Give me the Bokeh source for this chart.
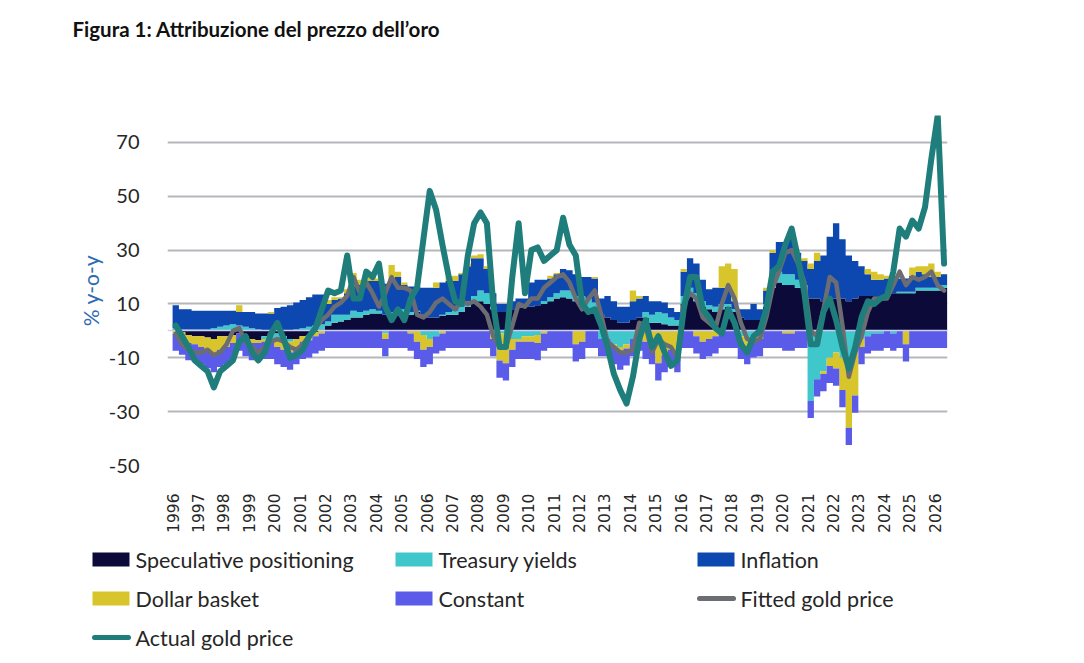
import numpy as np
from bokeh.plotting import figure
from bokeh.layouts import column, row
from bokeh.models import Range1d, FixedTicker
from bokeh.core.properties import value
from bokeh.embed import file_html
from bokeh.resources import INLINE

# ---------------- data (quarterly, 1996Q1 .. 2026Q2), % y-o-y contributions ----------------
start_year = 1996.0
step = 0.25

spec = [
    0.5, -0.5, -1.5, -2.0,     # 1996
    -2.0, -2.5, -3.0, -2.0,    # 1997
    -2.0, -1.5, -1.0, -2.0,    # 1998
    -3.0, -3.5, -2.0, -1.0,    # 1999
    -1.0, -2.0, -3.0, -3.0,    # 2000
    -2.0, -1.5, -0.5, 0.5,     # 2001
    2.0, 3.0, 3.5, 4.0,        # 2002
    5.0, 5.0, 6.0, 6.5,        # 2003
    6.5, 6.0, 6.0, 6.5,        # 2004
    6.5, 6.0, 7.0, 6.0,        # 2005
    5.0, 5.0, 5.5, 6.0,        # 2006
    6.0, 7.0, 9.0, 11.0,       # 2007
    11.0, 10.0, 8.0, 7.0,      # 2008
    7.0, 8.0, 8.5, 9.0,        # 2009
    9.0, 9.5, 10.0, 11.0,      # 2010
    12.0, 12.5, 12.0, 11.0,    # 2011
    9.0, 7.0, 6.5, 6.0,        # 2012
    5.0, 4.0, 3.0, 3.0,        # 2013
    4.0, 5.0, 5.0, 3.0,        # 2014
    3.0, 2.5, 2.0, 2.0,        # 2015
    10.0, 13.0, 11.0, 9.0,     # 2016
    8.0, 7.0, 8.0, 9.0,        # 2017
    7.0, 5.0, 4.0, 4.0,        # 2018
    4.0, 9.0, 16.0, 18.0,      # 2019
    17.0, 17.0, 16.0, 15.0,    # 2020
    12.0, 12.0, 11.0, 11.0,    # 2021
    12.0, 12.0, 11.0, 12.0,    # 2022
    13.0, 13.0, 13.0, 13.0,    # 2023
    13.0, 14.0, 14.0, 14.0,    # 2024
    14.0, 15.0, 15.0, 15.0,    # 2025
    15.0, 16.0,                # 2026
]

treasury = [
    0.5, 0.5, 0.5, 0.5,        # 1996
    0.5, 0.5, 1.0, 1.5,        # 1997
    2.0, 2.5, 2.0, 1.5,        # 1998
    1.0, 0.5, -1.0, -3.0,      # 1999
    -3.0, -2.0, -1.0, 0.5,     # 2000
    1.0, 1.5, 2.0, 2.0,        # 2001
    1.5, 3.0, 2.5, 2.0,        # 2002
    2.5, 2.0, 1.5, 1.5,        # 2003
    1.0, -1.0, 1.0, 1.5,       # 2004
    1.5, 1.0, 0.5, -1.5,       # 2005
    -3.0, -2.0, 0.5, 1.0,      # 2006
    1.5, 2.0, 2.0, 2.0,        # 2007
    4.0, 4.0, 1.0, -1.0,       # 2008
    -1.0, -3.0, -3.0, -2.0,    # 2009
    -2.0, -1.5, 1.0, 1.5,      # 2010
    2.0, 2.5, 3.0, 2.0,        # 2011
    4.0, 5.0, 4.0, -3.0,       # 2012
    -3.0, -5.0, -6.0, -5.0,    # 2013
    -3.0, -1.0, 2.0, 3.0,      # 2014
    4.0, 4.0, 3.0, 2.0,        # 2015
    3.0, 3.0, 3.0, 2.0,        # 2016
    1.5, 2.0, 2.0, 1.0,        # 2017
    1.0, -2.0, -3.0, -2.0,     # 2018
    -1.0, 1.0, 4.0, 4.0,       # 2019
    4.0, 4.0, 3.0, 2.0,        # 2020
    -26.0, -18.0, -15.0, -10.0,  # 2021
    -8.0, -10.0, -14.0, -8.0,  # 2022
    -3.0, -2.0, -1.0, -1.0,    # 2023
    0.5, -1.0, 0.5, 0.5,       # 2024
    0.5, 1.0, 1.0, 1.0,        # 2025
    1.0, 1.0,                  # 2026
]

inflation = [
    8.5, 7.5, 7.5, 7.0,        # 1996
    7.0, 7.0, 6.5, 6.0,        # 1997
    5.5, 5.0, 5.0, 5.5,        # 1998
    6.0, 6.0, 6.5, 6.5,        # 1999
    8.5, 9.0, 9.5, 10.0,       # 2000
    10.5, 11.0, 11.5, 11.0,    # 2001
    6.5, 5.5, 6.0, 8.0,        # 2002
    9.0, 10.0, 11.0, 10.5,     # 2003
    11.0, 11.5, 11.5, 12.0,    # 2004
    9.0, 9.5, 9.0, 10.0,       # 2005
    11.0, 11.0, 12.0, 11.5,    # 2006
    11.0, 12.0, 13.0, 14.0,    # 2007
    12.0, 9.0, 5.0, 3.0,       # 2008
    3.0, 3.0, 3.5, 3.0,        # 2009
    9.0, 9.5, 8.0, 7.0,        # 2010
    7.0, 8.0, 7.5, 8.0,        # 2011
    7.0, 8.0, 9.0, 6.0,        # 2012
    8.0, 7.0, 6.0, 6.0,        # 2013
    7.0, 7.0, 6.0, 5.0,        # 2014
    4.0, 4.0, 3.5, 3.0,        # 2015
    9.0, 11.0, 11.0, 8.0,      # 2016
    6.0, 7.0, 6.0, 5.0,        # 2017
    3.0, 3.0, 4.0, 6.0,        # 2018
    4.0, 5.0, 9.0, 11.0,       # 2019
    12.0, 14.0, 10.0, 9.0,     # 2020
    11.0, 14.0, 17.0, 24.0,    # 2021
    28.0, 22.0, 17.0, 14.0,    # 2022
    11.0, 8.0, 6.0, 6.0,       # 2023
    6.0, 5.0, 5.0, 5.0,        # 2024
    6.0, 6.0, 5.0, 4.0,        # 2025
    4.0, 4.0,                  # 2026
]

dollar = [
    -1.0, -2.0, -3.0, -3.0,    # 1996
    -4.0, -5.0, -6.0, -5.0,    # 1997
    -4.0, -3.0, 2.5, -1.0,     # 1998
    -1.5, -1.0, -1.0, 0.5,     # 1999
    -2.0, -3.0, -4.0, -3.0,    # 2000
    -2.0, -2.0, -1.5, -1.0,    # 2001
    1.5, 1.0, 0.5, 1.5,        # 2002
    5.0, 2.0, 2.0, 1.5,        # 2003
    1.0, -2.0, 6.0, 2.0,       # 2004
    1.0, -1.0, -4.0, -5.5,     # 2005
    -3.0, 2.0, -1.0, 1.5,      # 2006
    2.0, 0.5, 1.0, 1.0,        # 2007
    1.5, 1.0, -3.0, -10.0,     # 2008
    -11.0, -4.0, -1.0, -2.0,   # 2009
    -2.0, -3.0, -1.0, 1.0,     # 2010
    0.5, 0.0, 0.0, -5.0,       # 2011
    -4.0, 0.0, 0.5, 0.0,       # 2012
    0.0, -1.0, -2.0, -1.5,     # 2013
    4.0, 1.0, -4.0, -6.0,      # 2014
    -12.0, -9.0, -7.0, -9.0,   # 2015
    1.0, 0.0, -2.0, -4.0,      # 2016
    -3.0, -2.0, 8.0, 10.0,     # 2017
    12.0, -2.0, -3.0, -1.5,    # 2018
    -2.0, 1.0, 1.0, 0.0,       # 2019
    -1.0, -1.0, 0.0, 1.0,      # 2020
    2.0, 3.0, -1.0, -3.0,      # 2021
    -6.0, -12.0, -22.0, -16.0, # 2022
    -3.0, 2.0, 3.0, 2.0,       # 2023
    1.0, 1.0, 2.0, -5.0,       # 2024
    3.0, 2.0, 3.0, 5.0,        # 2025
    2.0, 0.0,                  # 2026
]

constant = [
    -6.4, -6.4, -6.4, -6.4,    # 1996
    -6.4, -6.4, -6.4, -6.4,    # 1997
    -6.4, -6.4, -6.4, -6.4,    # 1998
    -6.4, -6.4, -6.4, -6.4,    # 1999
    -6.4, -6.4, -6.4, -6.4,    # 2000
    -6.4, -6.4, -6.4, -6.4,    # 2001
    -6.4, -6.4, -6.4, -6.4,    # 2002
    -6.4, -6.4, -6.4, -6.4,    # 2003
    -6.4, -6.4, -6.4, -6.4,    # 2004
    -6.4, -6.4, -6.4, -6.4,    # 2005
    -6.4, -6.4, -6.4, -6.4,    # 2006
    -6.4, -6.4, -6.4, -6.4,    # 2007
    -6.4, -6.4, -6.4, -6.4,    # 2008
    -6.4, -6.4, -6.4, -6.4,    # 2009
    -6.4, -6.4, -6.4, -6.4,    # 2010
    -6.4, -6.4, -6.4, -6.4,    # 2011
    -6.4, -6.4, -6.4, -6.4,    # 2012
    -6.4, -6.4, -6.4, -6.4,    # 2013
    -6.4, -6.4, -6.4, -6.4,    # 2014
    -6.4, -6.4, -6.4, -6.4,    # 2015
    -6.4, -6.4, -6.4, -6.4,    # 2016
    -6.4, -6.4, -6.4, -6.4,    # 2017
    -6.4, -6.4, -6.4, -6.4,    # 2018
    -6.4, -6.4, -6.4, -6.4,    # 2019
    -6.4, -6.4, -6.4, -6.4,    # 2020
    -6.4, -6.4, -6.4, -6.4,    # 2021
    -6.4, -6.4, -6.4, -6.4,    # 2022
    -6.4, -6.4, -6.4, -6.4,    # 2023
    -6.4, -6.4, -6.4, -6.4,    # 2024
    -6.4, -6.4, -6.4, -6.4,    # 2025
    -6.4, -6.4,                # 2026
]

fitted = [
    -1, -5, -7, -8,            # 1996
    -8, -7, -9, -8,            # 1997
    -5, 0, 1, -4,              # 1998
    -6, -8, -6, -4,            # 1999
    -3, -4, -6, -7,            # 2000
    -5, -2, 1, 4,              # 2001
    6, 9, 10.5, 13,            # 2002
    20, 14, 18, 14,            # 2003
    9, 14, 20, 16,             # 2004
    16, 15, 6, 5,              # 2005
    7, 10.5, 12, 10,           # 2006
    8, 11, 10, 11,             # 2007
    9, 6, -2, -6,              # 2008
    -6, 2, 10, 9,              # 2009
    12, 12, 16, 18,            # 2010
    20, 21, 18, 12,            # 2011
    8, 12, 15, 6,              # 2012
    -4, -6, -8, -8,            # 2013
    -7, 3, 2, -8,              # 2014
    -3, -5, -6, -10,           # 2015
    10, 14, 12, 5,             # 2016
    3, 1, 10, 17,              # 2017
    12, 3, -3, -4,             # 2018
    -3, 5, 16, 22,             # 2019
    29, 30, 25, 18,            # 2020
    0, -2, 8, 20,              # 2021
    18, 2, -17, -8,            # 2022
    -2, 7, 12, 12,             # 2023
    12, 17, 22, 17,            # 2024
    20, 19, 20, 22,            # 2025
    17, 15,                    # 2026
]

actual = [
    2, -2, -6, -11,            # 1996
    -13, -15, -21, -15,        # 1997
    -13, -11, -4, -2,          # 1998
    -8, -11, -8, -1,           # 1999
    3, -3, -10, -9,            # 2000
    -7, -2, 1, 8,              # 2001
    15, 14, 15, 28,            # 2002
    12, 12, 22, 20,            # 2003
    25, 9, 4, 8,               # 2004
    4, 12, 16, 34,             # 2005
    52, 45, 32, 20,            # 2006
    11, 10, 28, 40,            # 2007
    44, 40, 10, -6,            # 2008
    -6, 20, 40, 14,            # 2009
    30, 31, 26, 28,            # 2010
    30, 42, 32, 28,            # 2011
    10, 7, 8, 2,               # 2012
    -6, -16, -22, -27,         # 2013
    -17, -3, 4, -6,            # 2014
    -2, -8, -13, -11,          # 2015
    8, 20, 20, 8,              # 2016
    5, 1, -1, 8,               # 2017
    3, -5, -8, -2,             # 2018
    0, 8, 22, 24,              # 2019
    32, 38, 27, 14,            # 2020
    -5, -5, 7, 12,             # 2021
    4, -6, -14, -6,            # 2022
    5, 11, 10, 12,             # 2023
    13, 22, 38, 35,            # 2024
    41, 38, 46, 64,            # 2025
    80, 25,                    # 2026
]

year_ticks = list(range(1996, 2027))
y_ticks = [-50, -30, -10, 10, 30, 50, 70]

title_text = "Figura 1: Attribuzione del prezzo dell\u2019oro"
series_names = ["Speculative positioning", "Treasury yields", "Inflation", "Dollar basket", "Constant"]
series_values = [spec, treasury, inflation, dollar, constant]
series_colors = ["#0b0a38", "#3fc7cc", "#0c48b0", "#d8c52c", "#5a5ce9"]
fitted_name, fitted_color = "Fitted gold price", "#6c6d72"
actual_name, actual_color = "Actual gold price", "#1f7e7b"

W = 1084
TOP_H, MAIN_H, LEG_H = 60, 475, 128
FL, FR = 167, 947          # frame left/right (px)
FT, FB = 55, 406           # frame top/bottom inside main figure (px)

# ---------------- title strip ----------------
t = figure(width=W, height=TOP_H, x_range=Range1d(0, W), y_range=Range1d(TOP_H, 0),
           output_backend="svg", toolbar_location=None, x_axis_type=None, y_axis_type=None,
           min_border=0)
t.grid.visible = False
t.outline_line_color = None
t.text(x=[72], y=[28], text=[title_text], text_font=value("Lato"), text_font_style="bold",
       text_font_size=value("20.5px"), text_color="#111111", text_align="left", text_baseline="middle")

# ---------------- main chart ----------------
p = figure(width=W, height=MAIN_H, x_range=Range1d(1995.80, 2026.51), y_range=Range1d(-50, 80),
           output_backend="svg", toolbar_location=None,
           min_border_left=FL, min_border_right=W - FR,
           min_border_top=FT, min_border_bottom=MAIN_H - FB)
p.outline_line_color = None

n = len(spec)
x_left = start_year + step * np.arange(n)
x_edges = np.append(x_left, x_left[-1] + step)
x_mid = x_left + step / 2

pos_base = np.zeros(n)
neg_base = np.zeros(n)
for vals, col in zip(series_values, series_colors):
    v = np.array(vals, dtype=float)
    pos = np.clip(v, 0, None)
    neg = np.clip(v, None, 0)
    lo, hi = pos_base, pos_base + pos
    p.varea_step(x=x_edges, y1=np.append(lo, lo[-1]), y2=np.append(hi, hi[-1]),
                 step_mode="after", fill_color=col, fill_alpha=1)
    nlo, nhi = neg_base + neg, neg_base
    p.varea_step(x=x_edges, y1=np.append(nlo, nlo[-1]), y2=np.append(nhi, nhi[-1]),
                 step_mode="after", fill_color=col, fill_alpha=1)
    pos_base = hi
    neg_base = nlo

p.hspan(y=[0], line_color="#cdd0f2", line_width=1.3)

p.line(x_mid, fitted, line_color=fitted_color, line_width=4.5, line_join="round", line_cap="round")
p.line(x_mid, actual, line_color=actual_color, line_width=6, line_join="round", line_cap="round")

p.xgrid.visible = False
p.ygrid.ticker = FixedTicker(ticks=y_ticks)
p.ygrid.grid_line_color = "#b4b7bb"
p.ygrid.grid_line_width = 1.8

p.yaxis.ticker = FixedTicker(ticks=y_ticks)
p.yaxis.major_label_overrides = {tk: str(tk) for tk in y_ticks}
p.yaxis.axis_line_color = None
p.yaxis.major_tick_line_color = None
p.yaxis.minor_tick_line_color = None
p.yaxis.major_label_standoff = 22
p.yaxis.major_label_text_font = "Lato"
p.yaxis.major_label_text_font_size = "20px"
p.yaxis.major_label_text_color = "#262626"
p.yaxis.axis_label = "% y-o-y"
p.yaxis.axis_label_text_font = "Lato"
p.yaxis.axis_label_text_font_size = "21px"
p.yaxis.axis_label_text_font_style = "normal"
p.yaxis.axis_label_text_color = "#2f6bb3"
p.yaxis.axis_label_standoff = 3

p.xaxis.ticker = FixedTicker(ticks=year_ticks)
p.xaxis.axis_line_color = None
p.xaxis.major_tick_line_color = None
p.xaxis.minor_tick_line_color = None
p.xaxis.major_label_orientation = np.pi / 2
p.xaxis.major_label_standoff = 22
p.xaxis.major_label_text_font = "DejaVu Sans"
p.xaxis.major_label_text_font_size = "15.5px"
p.xaxis.major_label_text_color = "#262626"

# ---------------- legend strip ----------------
lg = figure(width=W, height=LEG_H, x_range=Range1d(0, W), y_range=Range1d(LEG_H, 0),
            output_backend="svg", toolbar_location=None, x_axis_type=None, y_axis_type=None,
            min_border=0)
lg.grid.visible = False
lg.outline_line_color = None

legend_items = [(nm, c, "box") for nm, c in zip(series_names, series_colors)]
legend_items += [(fitted_name, fitted_color, "line"), (actual_name, actual_color, "line")]
col_px = [92, 395, 697]
row_px = [24, 63, 102]
for i, (name, col, kind) in enumerate(legend_items):
    cx = col_px[i % 3]
    cy = row_px[i // 3]
    if kind == "box":
        lg.quad(left=[cx], right=[cx + 37], top=[cy - 7], bottom=[cy + 7],
                fill_color=col, line_color=None)
    else:
        lg.line(x=[cx + 2, cx + 36], y=[cy, cy], line_color=col, line_width=5, line_cap="round")
    lg.text(x=[cx + 43], y=[cy], text=[name], text_font=value("Lato"), text_font_size=value("21.5px"),
            text_color="#262626", text_align="left", text_baseline="middle")

layout = column(row(t), row(p), row(lg), spacing=0)
open("out.html", "w").write(file_html(layout, INLINE))
